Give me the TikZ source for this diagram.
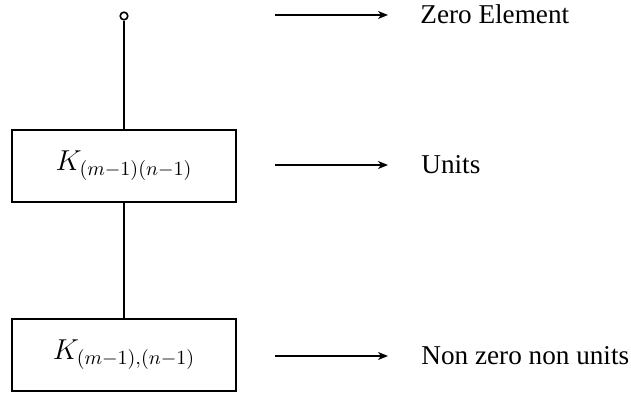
\documentclass[tikz,border=0pt]{standalone}
\usepackage{fontspec}
\setmainfont{Liberation Serif}
\usetikzlibrary{arrows.meta}
\begin{document}
\begin{tikzpicture}[x=0.5pt,y=-0.5pt,
  every node/.style={font=\fontsize{13.6}{16}\selectfont},
  blockbox/.style={draw,line width=1pt,minimum width=112pt,minimum height=36pt,inner sep=0pt},
  link/.style={line width=0.9pt},
  pointer/.style={line width=0.8pt,-{Stealth[length=5pt,width=4pt,inset=1.5pt]}},
  lbl/.style={anchor=west,inner sep=0pt}]
\useasboundingbox (0,0) rectangle (631,394);
\node[draw,circle,line width=0.8pt,minimum size=3.8pt,inner sep=0pt] (top) at (124,16) {};
\node[blockbox] (units) at (124,166) {$K_{(m-1)(n-1)}$};
\node[blockbox] (nonunits) at (124,355) {$K_{(m-1),(n-1)}$};
\draw[link] (top) -- (units);
\draw[link] (units) -- (nonunits);
\coordinate (a1s) at (275,15); \coordinate (a1e) at (388,15);
\coordinate (a2s) at (275,165); \coordinate (a2e) at (388,165);
\coordinate (a3s) at (275,356); \coordinate (a3e) at (388,356);
\draw[pointer] (a1s) -- (a1e);
\draw[pointer] (a2s) -- (a2e);
\draw[pointer] (a3s) -- (a3e);
\node[lbl] (l1) at (420,14) {Zero Element};
\node[lbl] (l2) at (421,165) {Units};
\node[lbl] (l3) at (421,356) {Non zero non units};
\end{tikzpicture}
\end{document}
